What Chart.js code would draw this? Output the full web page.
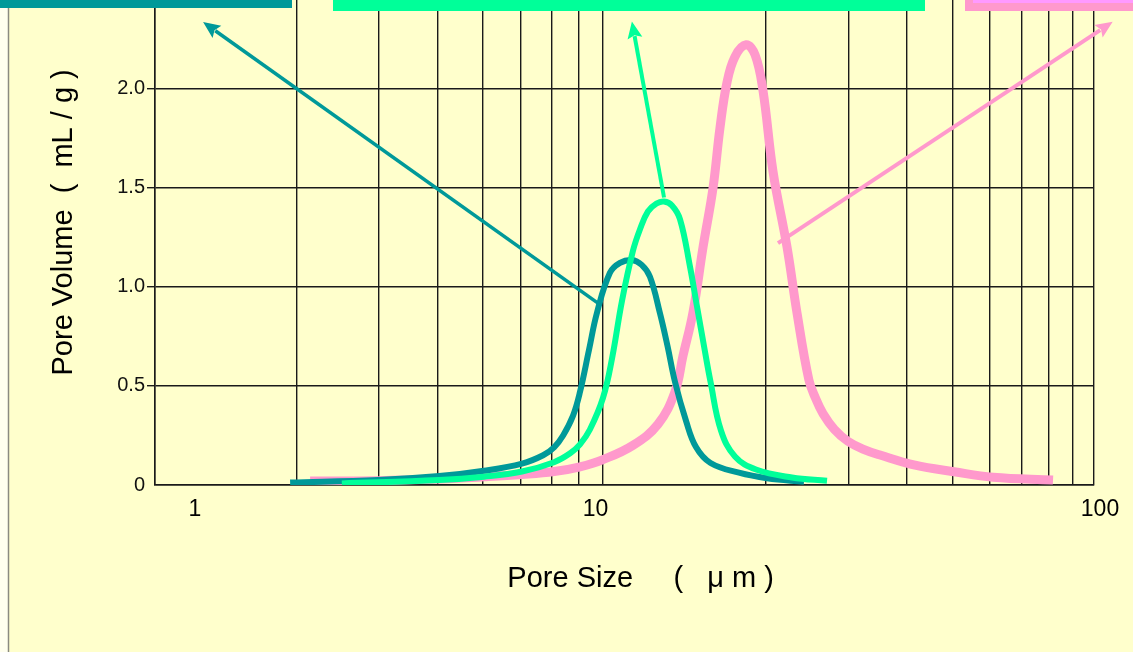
<!DOCTYPE html>
<html>
<head>
<meta charset="utf-8">
<title>Pore Size Distribution</title>
<script src="https://cdn.jsdelivr.net/npm/chart.js@4.4.1/dist/chart.umd.min.js"></script>
<style>
  html, body { margin: 0; padding: 0; background: #FFFFCC; overflow: hidden; }
  canvas { display: block; }
</style>
</head>
<body>
<canvas id="chart" width="1133" height="652"></canvas>
<script>
// Pore size (µm) vs. pore volume (mL/g) for three samples
const sizeA = [1.94, 2.99, 4.03, 5.02, 6.05, 6.71, 7.08, 7.40, 7.77, 8.04, 8.40, 8.74, 9.31, 9.78, 10.37, 10.88, 11.33, 11.9, 12.35, 12.81, 13.52, 14.21, 15.25, 17.53, 20.12, 24.12];
const volA  = [0.012, 0.025, 0.045, 0.072, 0.108, 0.15, 0.19, 0.25, 0.35, 0.47, 0.68, 0.87, 1.07, 1.12, 1.135, 1.11, 1.05, 0.866, 0.70, 0.52, 0.324, 0.19, 0.111, 0.062, 0.034, 0.016];

const sizeB = [2.5, 4.03, 5.02, 6.05, 7.08, 7.66, 8.04, 8.44, 9.0, 9.41, 9.88, 10.42, 10.79, 11.22, 11.7, 12.14, 12.62, 13.13, 13.79, 14.27, 14.77, 15.25, 16.05, 17.19, 19.06, 22.74, 27.0];
const volB  = [0.008, 0.025, 0.042, 0.068, 0.115, 0.16, 0.205, 0.28, 0.44, 0.64, 0.93, 1.18, 1.29, 1.38, 1.42, 1.43, 1.41, 1.34, 1.10, 0.90, 0.70, 0.52, 0.275, 0.144, 0.078, 0.038, 0.021];

const sizeC = [2.14, 3.0, 4.03, 5.02, 6.05, 7.08, 8.04, 8.97, 10.42, 11.79, 12.81, 13.32, 13.99, 14.70, 15.44, 15.97, 16.53, 17.19, 18.15, 18.97, 19.72, 20.72, 22.19, 23.31, 24.7, 25.5, 26.47, 28.0, 29.93, 32.3, 35.02, 41.57, 50.33, 60.95, 81.8];
const volC  = [0.02, 0.022, 0.03, 0.041, 0.053, 0.068, 0.092, 0.127, 0.2, 0.307, 0.47, 0.65, 0.87, 1.2, 1.5, 1.8, 2.03, 2.16, 2.22, 2.17, 1.99, 1.58, 1.2, 0.866, 0.53, 0.44, 0.36, 0.28, 0.22, 0.18, 0.151, 0.10, 0.067, 0.039, 0.025];

const xTicks  = [1, 2, 3, 4, 5, 6, 7, 8, 9, 10, 20, 30, 40, 50, 60, 70, 80, 90, 100];
const xLabels = ['1', '10', '100'];
const yTicks  = [0, 0.5, 1.0, 1.5, 2.0];

const xTitle = '    Pore Size     (   μ m )';
const yTitle = '     Pore Volume  (  mL / g )';

const colorA = '#009999';
const colorB = '#00FF99';
const colorC = '#FF99CC';

const FONT = "'Liberation Sans', Arial, 'Noto Sans CJK JP', sans-serif";
const GRID = '#1a1a1a';

const toPoints = (xs, ys) => xs.map((x, i) => ({ x, y: ys[i] }));

// Background, frame line, header boxes and pointer arrows
const decorations = {
  id: 'decorations',
  beforeDraw(chart) {
    const { ctx, width, height } = chart;
    ctx.save();
    ctx.fillStyle = '#FFFFCC';
    ctx.fillRect(0, 0, width, height);
    ctx.fillStyle = '#FFFFEE';
    ctx.fillRect(0, 0, 8, height);
    ctx.strokeStyle = '#8a8a80';
    ctx.lineWidth = 1.5;
    ctx.beginPath();
    ctx.moveTo(8.5, 0);
    ctx.lineTo(8.5, height);
    ctx.stroke();
    ctx.restore();
  },
  afterDraw(chart, args, opts) {
    const { ctx } = chart;
    const xs = chart.scales.x, ys = chart.scales.y;
    ctx.save();
    // arrows, anchored in data units
    opts.arrows.forEach(a => {
      const x0 = xs.getPixelForValue(a.from[0]), y0 = ys.getPixelForValue(a.from[1]);
      const x1 = xs.getPixelForValue(a.to[0]),   y1 = ys.getPixelForValue(a.to[1]);
      const ang = Math.atan2(y1 - y0, x1 - x0);
      const hl = 17, hw = 7.5;
      const bx = x1 - hl * Math.cos(ang), by = y1 - hl * Math.sin(ang);
      ctx.strokeStyle = a.color;
      ctx.lineWidth = a.width;
      ctx.lineCap = 'butt';
      ctx.beginPath();
      ctx.moveTo(x0, y0);
      ctx.lineTo(bx + 2 * Math.cos(ang), by + 2 * Math.sin(ang));
      ctx.stroke();
      ctx.fillStyle = a.color;
      ctx.beginPath();
      ctx.moveTo(x1, y1);
      ctx.lineTo(bx - hw * Math.sin(ang), by + hw * Math.cos(ang));
      ctx.lineTo(bx + 3 * Math.cos(ang), by + 3 * Math.sin(ang));
      ctx.lineTo(bx + hw * Math.sin(ang), by - hw * Math.cos(ang));
      ctx.closePath();
      ctx.fill();
    });
    // header boxes along the top edge
    ctx.fillStyle = colorA;
    ctx.fillRect(0, 0, 292, 8);
    ctx.fillStyle = colorB;
    ctx.fillRect(333, 0, 592, 11);
    ctx.fillStyle = colorC;
    ctx.fillRect(965, 0, 168, 11);
    ctx.fillStyle = '#FF99FF';
    ctx.fillRect(973, 0, 160, 3);
    ctx.restore();
  }
};

// Per-label horizontal nudge of the x tick labels
const labelNudge = {
  id: 'labelNudge',
  beforeDraw(chart, args, opts) {
    const items = chart.scales.x.getLabelItems();
    if (items._nudged) return;
    items.forEach(it => {
      const dx = opts.shift[it.label] || 0;
      it.options.translation[0] += dx;
    });
    items._nudged = true;
  }
};

new Chart(document.getElementById('chart'), {
  type: 'line',
  data: {
    datasets: [
      { label: 'Sample B', data: toPoints(sizeB, volB), borderColor: colorB, borderWidth: 6 },
      { label: 'Sample A', data: toPoints(sizeA, volA), borderColor: colorA, borderWidth: 6 },
      { label: 'Sample C', data: toPoints(sizeC, volC), borderColor: colorC, borderWidth: 9 }
    ]
  },
  options: {
    responsive: false,
    animation: false,
    devicePixelRatio: 1,
    layout: { padding: { top: 0, right: 39, bottom: 0, left: 0 } },
    elements: {
      point: { radius: 0, hoverRadius: 0 },
      line: { tension: 0.4, fill: false, borderCapStyle: 'butt', borderJoinStyle: 'round' }
    },
    plugins: {
      legend: { display: false },
      tooltip: { enabled: false },
      labelNudge: { shift: { '1': 40, '10': -29, '100': 6 } },
      decorations: {
        arrows: [
          { from: [8.87, 0.91], to: [1.266, 2.335], color: colorA, width: 3.5 },
          { from: [12.14, 1.45], to: [10.37, 2.338], color: colorB, width: 4 },
          { from: [21.23, 1.22], to: [109.6, 2.336], color: colorC, width: 4 }
        ]
      }
    },
    scales: {
      x: {
        type: 'logarithmic',
        min: 1,
        max: 100,
        afterBuildTicks: s => { s.ticks = xTicks.map(v => ({ value: v })); },
        afterFit: s => { s.height = 167; },
        grid: {
          color: c => (c.tick && c.tick.value === 10) ? 'rgba(0,0,0,0)' : GRID,
          lineWidth: 1.4,
          drawTicks: false
        },
        border: { display: true, color: GRID, width: 1.5 },
        ticks: {
          autoSkip: false,
          maxRotation: 0,
          padding: 11,
          color: '#000',
          font: { family: FONT, size: 23 },
          callback: v => xLabels.includes(String(v)) ? String(v) : ''
        },
        title: {
          display: true,
          text: xTitle,
          color: '#000',
          font: { family: FONT, size: 29 },
          padding: { top: 0, bottom: 56 }
        }
      },
      y: {
        min: 0,
        max: 2.446,
        afterBuildTicks: s => { s.ticks = yTicks.map(v => ({ value: v })); },
        afterFit: s => { s.width = 155; s.paddingTop = 0; s.paddingBottom = 0; },
        grid: {
          color: GRID,
          lineWidth: 1.4,
          drawTicks: true,
          tickLength: 8,
          tickColor: c => (c.tick && c.tick.value === 0) ? 'rgba(0,0,0,0)' : GRID
        },
        border: { display: true, color: GRID, width: 1.5 },
        ticks: {
          padding: 2,
          color: '#111',
          font: { family: FONT, size: 20 },
          callback: v => v === 0 ? '0' : v.toFixed(1)
        },
        title: {
          display: true,
          text: yTitle,
          color: '#000',
          font: { family: FONT, size: 29 },
          padding: { top: 47, bottom: 0 }
        }
      }
    }
  },
  plugins: [labelNudge, decorations]
});
</script>
</body>
</html>
